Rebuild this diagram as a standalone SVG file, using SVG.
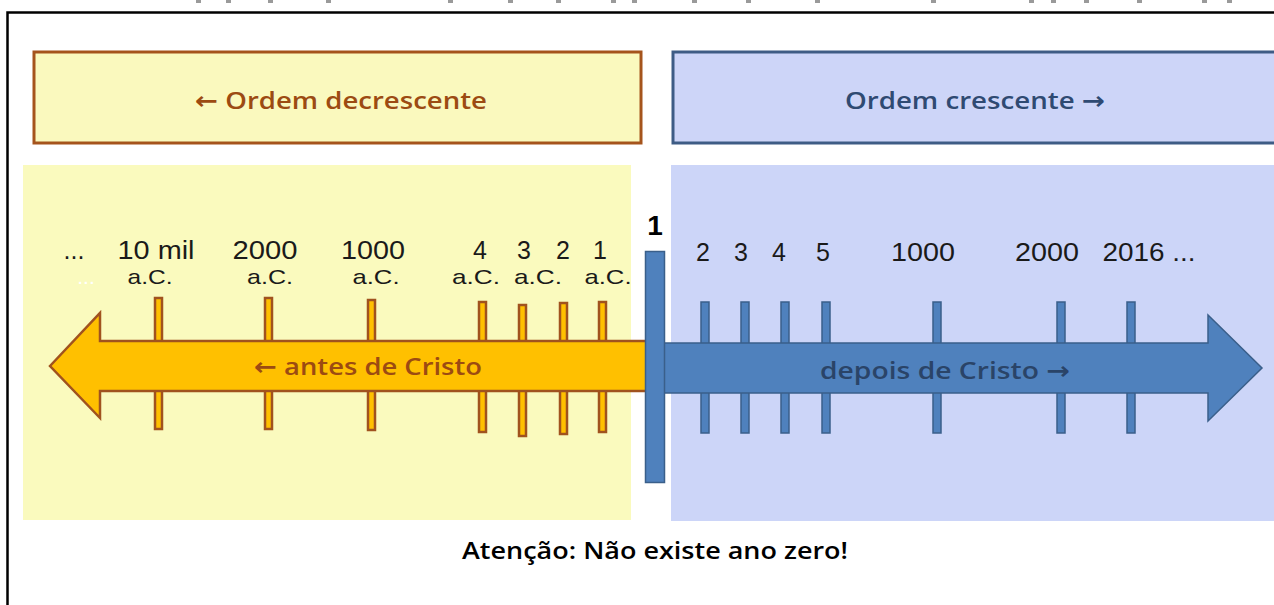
<svg xmlns="http://www.w3.org/2000/svg" width="1274" height="605" viewBox="0 0 1274 605">
<style>
.lbl{font-family:"Liberation Sans",Arial,sans-serif;font-size:25px;fill:#1a1a1a;text-anchor:middle}
.ac{font-family:"Liberation Sans",Arial,sans-serif;font-size:21px;fill:#1a1a1a;text-anchor:middle}
.hdr{font-family:"Open Sans","Liberation Sans",sans-serif;font-size:24px;font-weight:600;text-anchor:middle}
.arr{font-family:"DejaVu Sans",sans-serif;font-weight:bold;font-size:24px}
.otick{fill:#FFC000;stroke:#A0521E;stroke-width:2.5}
.btick{fill:#4F81BD;stroke:#3A5F8A;stroke-width:1.5}
.frag{fill:#9a9a9a}
</style>
<rect width="1274" height="605" fill="#fff"/>
<g id="fragments">
<rect class="frag" x="196" y="0" width="5" height="3"/><rect class="frag" x="226" y="0" width="5" height="3"/><rect class="frag" x="268" y="0" width="5" height="3"/><rect class="frag" x="326" y="0" width="5" height="3"/><rect class="frag" x="448" y="0" width="5" height="3"/><rect class="frag" x="508" y="0" width="5" height="3"/><rect class="frag" x="556" y="0" width="5" height="3"/><rect class="frag" x="611" y="0" width="5" height="3"/><rect class="frag" x="632" y="0" width="5" height="3"/><rect class="frag" x="692" y="0" width="5" height="3"/><rect class="frag" x="746" y="0" width="5" height="3"/><rect class="frag" x="815" y="0" width="5" height="3"/><rect class="frag" x="931" y="0" width="5" height="3"/><rect class="frag" x="1029" y="0" width="5" height="3"/><rect class="frag" x="1051" y="0" width="5" height="3"/><rect class="frag" x="1084" y="0" width="5" height="3"/><rect class="frag" x="1137" y="0" width="5" height="3"/><rect class="frag" x="1202" y="0" width="5" height="3"/><rect class="frag" x="1227" y="0" width="5" height="3"/>
</g>
<g id="frame" stroke="#000" stroke-width="2.5" fill="none">
<path d="M7.5 605 V12.5 H1274"/>
</g>
<g id="bg">
<rect x="23" y="165" width="608" height="355" fill="#FAFABE"/>
<rect x="671" y="165" width="603" height="356" fill="#CCD5F8"/>
</g>
<g id="box-decrescente">
<rect x="34" y="52" width="607" height="91" fill="#FAF9BE" stroke="#A5541C" stroke-width="3"/>
<text class="hdr" x="341" y="109" fill="#9C4B12" textLength="292" lengthAdjust="spacingAndGlyphs"><tspan class="arr">←</tspan> Ordem decrescente</text>
</g>
<g id="box-crescente">
<rect x="673" y="52" width="610" height="91" fill="#CDD5F8" stroke="#3E5C85" stroke-width="3"/>
<text class="hdr" x="975" y="109" fill="#2F4A72" textLength="260" lengthAdjust="spacingAndGlyphs">Ordem crescente <tspan class="arr">→</tspan></text>
</g>
<g id="orange-ticks">
<rect class="otick" x="155" y="298" width="7" height="131"/>
<rect class="otick" x="265" y="298" width="7" height="131"/>
<rect class="otick" x="368" y="300" width="7" height="130"/>
<rect class="otick" x="479" y="302" width="7" height="130"/>
<rect class="otick" x="519" y="305" width="7" height="131"/>
<rect class="otick" x="560" y="303" width="7" height="131"/>
<rect class="otick" x="599" y="302" width="7" height="130"/>
</g>
<g id="arrow-antes">
<path d="M50 366 L100 313 V341 H648 V391 H100 V418 Z" fill="#FFC000" stroke="#A0521E" stroke-width="2.5" stroke-linejoin="miter"/>
<text class="hdr" x="368" y="375" fill="#9C4B12" textLength="228" lengthAdjust="spacingAndGlyphs"><tspan class="arr">←</tspan> antes de Cristo</text>
</g>
<g id="blue-ticks">
<rect class="btick" x="701" y="302" width="8" height="131"/>
<rect class="btick" x="741" y="302" width="8" height="131"/>
<rect class="btick" x="781" y="302" width="8" height="131"/>
<rect class="btick" x="822" y="302" width="8" height="131"/>
<rect class="btick" x="933" y="302" width="8" height="131"/>
<rect class="btick" x="1057" y="302" width="8" height="131"/>
<rect class="btick" x="1127" y="302" width="8" height="131"/>
</g>
<g id="arrow-depois">
<path d="M662 343 H1208 V315 L1262 368 L1208 421 V393 H662 Z" fill="#4F81BD" stroke="#3A5F8A" stroke-width="1.5"/>
<text class="hdr" x="945" y="379" fill="#2A4468" textLength="250" lengthAdjust="spacingAndGlyphs">depois de Cristo <tspan class="arr">→</tspan></text>
</g>
<g id="year-one">
<rect x="645.5" y="251.5" width="19" height="231" fill="#4F81BD" stroke="#3A5F8A" stroke-width="1.5"/>
<text x="655" y="235" font-family="Liberation Sans,Arial,sans-serif" font-size="28" font-weight="bold" text-anchor="middle" fill="#000">1</text>
</g>
<g id="labels-bc">
<text class="lbl" x="74" y="259">...</text>
<text class="ac" x="86" y="284" style="fill:#fff">...</text>
<text class="lbl" x="156" y="259" textLength="77" lengthAdjust="spacingAndGlyphs">10 mil</text>
<text class="ac" x="150" y="284" textLength="45" lengthAdjust="spacingAndGlyphs">a.C.</text>
<text class="lbl" x="265" y="259" textLength="65" lengthAdjust="spacingAndGlyphs">2000</text>
<text class="ac" x="270" y="284" textLength="46" lengthAdjust="spacingAndGlyphs">a.C.</text>
<text class="lbl" x="373" y="259" textLength="64" lengthAdjust="spacingAndGlyphs">1000</text>
<text class="ac" x="376" y="284" textLength="47" lengthAdjust="spacingAndGlyphs">a.C.</text>
<text class="lbl" x="480" y="259">4</text>
<text class="ac" x="476" y="284" textLength="48" lengthAdjust="spacingAndGlyphs">a.C.</text>
<text class="lbl" x="524" y="259">3</text>
<text class="lbl" x="563" y="259">2</text>
<text class="ac" x="538" y="284" textLength="48" lengthAdjust="spacingAndGlyphs">a.C.</text>
<text class="lbl" x="600" y="259">1</text>
<text class="ac" x="608" y="284" textLength="47" lengthAdjust="spacingAndGlyphs">a.C.</text>
</g>
<g id="labels-ad">
<text class="lbl" x="703" y="261">2</text>
<text class="lbl" x="741" y="261">3</text>
<text class="lbl" x="779" y="261">4</text>
<text class="lbl" x="823" y="261">5</text>
<text class="lbl" x="923" y="261" textLength="64" lengthAdjust="spacingAndGlyphs">1000</text>
<text class="lbl" x="1047" y="261" textLength="64" lengthAdjust="spacingAndGlyphs">2000</text>
<text class="lbl" x="1149" y="261" textLength="93" lengthAdjust="spacingAndGlyphs">2016 ...</text>
</g>
<g id="note">
<text x="655" y="559" font-family="Open Sans,Liberation Sans,sans-serif" font-size="23" font-weight="600" text-anchor="middle" fill="#000" textLength="386" lengthAdjust="spacingAndGlyphs">Atenção: Não existe ano zero!</text>
</g>
</svg>
